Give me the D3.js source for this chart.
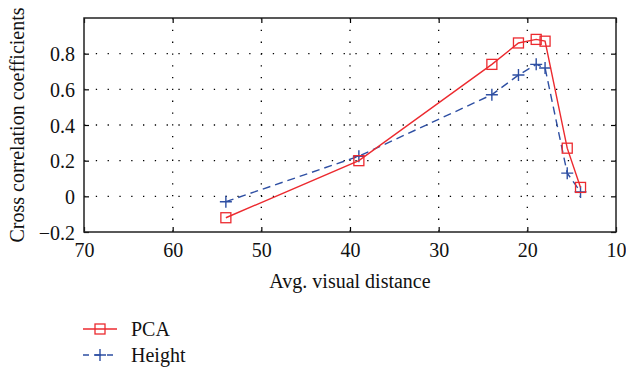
<!DOCTYPE html>
<html>
<head>
<meta charset="utf-8">
<script src="https://cdn.jsdelivr.net/npm/d3@7"></script>
<style>
  body { margin: 0; background: #fff; }
  svg { display: block; font-family: "Liberation Serif", "DejaVu Serif", serif; }
</style>
</head>
<body>
<svg id="chart" width="626" height="370"></svg>
<script>
// data
const distances = [54, 39, 24, 21, 19, 18, 15.5, 14];
const pcaValues = [-0.12, 0.20, 0.74, 0.86, 0.88, 0.87, 0.27, 0.05];
const heightValues = [-0.03, 0.225, 0.57, 0.68, 0.74, 0.72, 0.13, 0.025];
const xTicks = [70, 60, 50, 40, 30, 20, 10];
const yTicks = [-0.2, 0, 0.2, 0.4, 0.6, 0.8];
const seriesNames = ["PCA", "Height"];

const margin = { left: 84, right: 10, top: 18, bottom: 138 };
const width = 626, height = 370;

const svg = d3.select("#chart");

const x = d3.scaleLinear().domain([70, 10]).range([margin.left, width - margin.right]);
const y = d3.scaleLinear().domain([-0.2, 1.0]).range([height - margin.bottom, margin.top]);

const red = "#ec2a2f";
const blue = "#2e4fa3";
const fontSize = "20px";

// dotted grid
const grid = svg.append("g");
grid.selectAll("line.gx")
    .data(xTicks.slice(1, -1))
    .join("line")
    .attr("x1", d => x(d)).attr("x2", d => x(d))
    .attr("y1", y(1.0)).attr("y2", y(-0.2))
    .style("stroke", "#000")
    .style("stroke-width", 1.3)
    .style("stroke-dasharray", "1.3,10.5");
grid.selectAll("line.gy")
    .data(yTicks.slice(1))
    .join("line")
    .attr("y1", d => y(d)).attr("y2", d => y(d))
    .attr("x1", x(70)).attr("x2", x(10))
    .style("stroke", "#000")
    .style("stroke-width", 1.3)
    .style("stroke-dasharray", "1.3,10.5");

// axes with inward ticks
const bottomAxis = d3.axisBottom(x).tickValues(xTicks).tickSizeInner(-5).tickSizeOuter(0).tickPadding(11).tickFormat(d3.format("d"));
const leftAxis = d3.axisLeft(y).tickValues(yTicks).tickSizeInner(-5).tickSizeOuter(0).tickPadding(9)
    .tickFormat(d => d === 0 ? "0" : d3.format(".1f")(d).replace("-", "\u2212"));

const gx = svg.append("g").attr("transform", `translate(0,${y(-0.2)})`).call(bottomAxis);
const gy = svg.append("g").attr("transform", `translate(${x(70)},0)`).call(leftAxis);
svg.append("g").attr("transform", `translate(0,${y(1.0)})`)
    .call(d3.axisTop(x).tickValues(xTicks).tickSizeInner(-5).tickSizeOuter(0).tickFormat(""));
svg.append("g").attr("transform", `translate(${x(10)},0)`)
    .call(d3.axisRight(y).tickValues(yTicks).tickSizeInner(-5).tickSizeOuter(0).tickFormat(""));

svg.selectAll(".domain").remove();
svg.selectAll(".tick line").style("stroke", "#000").style("stroke-width", 1.2);
[gx, gy].forEach(g => g.selectAll("text")
    .style("font-size", fontSize)
    .style("fill", "#111")
    .style("font-family", "'Liberation Serif', serif"));
gy.selectAll("text").attr("dy", "0.35em");

// frame
svg.append("rect")
    .attr("x", x(70)).attr("y", y(1.0))
    .attr("width", x(10) - x(70)).attr("height", y(-0.2) - y(1.0))
    .style("fill", "none").style("stroke", "#222").style("stroke-width", 1.5);

// axis titles
svg.append("text")
    .attr("x", (x(70) + x(10)) / 2).attr("y", 288)
    .attr("text-anchor", "middle")
    .style("font-size", fontSize).style("fill", "#111")
    .text("Avg. visual distance");
svg.append("text")
    .attr("transform", `translate(24,${(y(1.0) + y(-0.2)) / 2}) rotate(-90)`)
    .attr("text-anchor", "middle")
    .style("font-size", fontSize).style("fill", "#111")
    .text("Cross correlation coefficients");

const line = d3.line().x(d => x(d[0])).y(d => y(d[1]));
const pcaPts = distances.map((d, i) => [d, pcaValues[i]]);
const heightPts = distances.map((d, i) => [d, heightValues[i]]);

function squareMarker(g, cx, cy) {
    g.append("rect")
        .attr("x", cx - 5).attr("y", cy - 5).attr("width", 10).attr("height", 10)
        .style("fill", "none").style("stroke", red).style("stroke-width", 1.3);
}
function plusMarker(g, cx, cy) {
    g.append("path")
        .attr("d", `M${cx - 6},${cy}H${cx + 6}M${cx},${cy - 6}V${cy + 6}`)
        .style("stroke", blue).style("stroke-width", 1.4).style("fill", "none");
}

// Height series (dashed blue)
svg.append("path").datum(heightPts).attr("d", line)
    .style("fill", "none").style("stroke", blue).style("stroke-width", 1.4)
    .style("stroke-dasharray", "8,5");
const hm = svg.append("g");
heightPts.forEach(p => plusMarker(hm, x(p[0]), y(p[1])));

// PCA series (solid red)
svg.append("path").datum(pcaPts).attr("d", line)
    .style("fill", "none").style("stroke", red).style("stroke-width", 1.4);
const pm = svg.append("g");
pcaPts.forEach(p => squareMarker(pm, x(p[0]), y(p[1])));

// legend
const legend = svg.append("g");
const legendRows = [329, 355];
seriesNames.forEach((name, i) => {
    const ly = legendRows[i];
    const col = i === 0 ? red : blue;
    legend.append("line")
        .attr("x1", 83).attr("x2", 117).attr("y1", ly).attr("y2", ly)
        .style("stroke", col).style("stroke-width", 1.4)
        .style("stroke-dasharray", i === 0 ? null : "6,6");
    if (i === 0) squareMarker(legend, 100, ly); else plusMarker(legend, 100, ly);
    legend.append("text")
        .attr("x", 131).attr("y", ly + 7)
        .style("font-size", fontSize).style("fill", "#111")
        .text(name);
});
</script>
</body>
</html>
